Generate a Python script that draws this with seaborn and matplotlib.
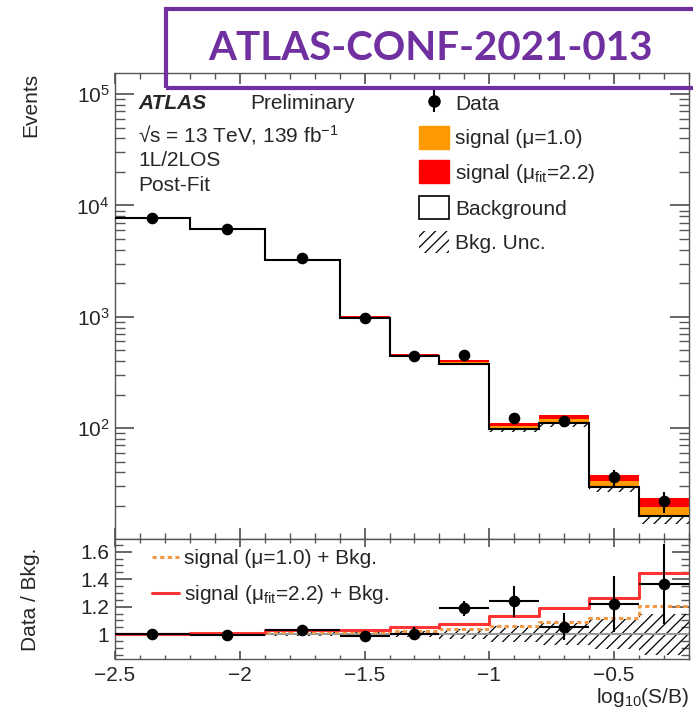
import numpy as np
import matplotlib
matplotlib.use("Agg")
import matplotlib.pyplot as plt
from matplotlib.patches import Rectangle, Patch
from matplotlib.lines import Line2D
from matplotlib.legend_handler import HandlerTuple
from matplotlib.ticker import (MultipleLocator, LogLocator, NullFormatter,
                               FixedLocator, FuncFormatter)
import seaborn as sns

# ---- binning in log10(S/B) ----
bin_edges = [-2.5, -2.2, -1.9, -1.6, -1.4, -1.2, -1.0, -0.8, -0.6, -0.4, -0.2]

# ---- post-fit yields per bin ----
background = [7750, 6200, 3230, 980, 443, 380, 98.5, 110, 29.7, 16.1]
bkg_rel_unc = [0.01, 0.01, 0.015, 0.015, 0.02, 0.035, 0.06, 0.08, 0.11, 0.15]
signal_mu1 = [15, 25, 42, 13, 10.6, 13.7, 5.9, 9.7, 3.6, 3.3]
signal_mufit = [39, 62, 97, 29, 23.5, 29.6, 13.1, 20.9, 7.8, 7.2]

# ---- observed data ----
data_counts = [7780, 6170, 3340, 970, 445, 452, 122, 116, 36.2, 22.0]
data_err = [88, 79, 58, 31, 21, 21, 11, 10.8, 6.0, 4.7]

# ---- axis ticks ----
events_ticks = [1e2, 1e3, 1e4, 1e5]
ratio_ticks = [1.0, 1.2, 1.4, 1.6]

# ---- styling ----
sns.set_theme(style="ticks")
plt.rcParams["font.family"] = ["Liberation Sans", "DejaVu Sans"]
plt.rcParams["mathtext.fontset"] = "custom"
plt.rcParams["mathtext.rm"] = "Liberation Sans"
plt.rcParams["mathtext.it"] = "Liberation Sans:italic"
plt.rcParams["mathtext.bf"] = "Liberation Sans:bold"
plt.rcParams["hatch.linewidth"] = 0.9
plt.rcParams["axes.linewidth"] = 1.0
plt.rcParams["axes.edgecolor"] = "#555555"

ORANGE = "#FF9A00"
RED = "#FF0000"
PURPLE = "#7030A0"
FS = 15

edges = np.array(bin_edges)
centers = 0.5 * (edges[1:] + edges[:-1])
halfw = 0.5 * np.diff(edges)
bkg = np.array(background)
unc = np.array(bkg_rel_unc)
s1 = np.array(signal_mu1)
sfit = np.array(signal_mufit)
dat = np.array(data_counts)
derr = np.array(data_err)

W, H = 693, 714
fig = plt.figure(figsize=(W / 100, H / 100), dpi=100)
x0, x1 = 115, 689
y_top, y_mid, y_bot = 73, 539.3, 659
ax = fig.add_axes([x0 / W, 1 - y_mid / H, (x1 - x0) / W, (y_mid - y_top) / H])
rax = fig.add_axes([x0 / W, 1 - y_bot / H, (x1 - x0) / W, (y_bot - y_mid) / H], sharex=ax)

# ---- main panel ----
ax.set_yscale("log")
ax.stairs(bkg * (1 + unc), edges, baseline=bkg * (1 - unc), fill=True,
          facecolor="none", edgecolor="black", linewidth=0, hatch="///", zorder=1)
ax.stairs(bkg + sfit, edges, baseline=bkg, fill=True, color=RED, linewidth=0, zorder=2)
ax.stairs(bkg + s1, edges, baseline=bkg, fill=True, color=ORANGE, linewidth=0, zorder=3)
ax.stairs(bkg, edges, baseline=None, color="black", linewidth=1.5, zorder=4)
ax.errorbar(centers, dat, yerr=derr, fmt="none", ecolor="black", elinewidth=1.5, zorder=5)
sns.scatterplot(x=centers, y=dat, ax=ax, color="black", s=70, edgecolor="black",
                linewidth=0, zorder=6, legend=False)

ax.set_xlim(-2.5, -0.2)
ax.set_ylim(10, 1.55e5)
ax.set_ylabel("Events", fontsize=FS, loc="top")
ax.tick_params(labelbottom=False)

minus_fmt = FuncFormatter(lambda v, p: ("%g" % v).replace("-", "\u2212"))
ax.xaxis.set_major_locator(MultipleLocator(0.5))
ax.xaxis.set_minor_locator(MultipleLocator(0.1))
ax.yaxis.set_major_locator(FixedLocator(events_ticks))
ax.yaxis.set_minor_locator(LogLocator(base=10, subs=np.arange(2, 10), numticks=20))
ax.yaxis.set_minor_formatter(NullFormatter())
ax.tick_params(which="both", direction="in", top=True, right=True, color="#555555")
ax.tick_params(axis="x", which="major", length=8)
ax.tick_params(axis="x", which="minor", length=4)
ax.tick_params(axis="y", which="major", length=14, labelsize=FS, pad=4)
ax.tick_params(axis="y", which="minor", length=7)

# labels inside the main panel
tx = 0.04
ax.text(tx, 0.934, "ATLAS", transform=ax.transAxes, fontsize=FS, fontweight="bold",
        fontstyle="italic", va="center", ha="left")
ax.text(0.235, 0.934, "Preliminary", transform=ax.transAxes, fontsize=FS,
        va="center", ha="left")
ax.text(tx, 0.866, "√s = 13 TeV, 139 fb$^{-1}$", transform=ax.transAxes, fontsize=FS,
        va="center", ha="left")
ax.text(tx, 0.812, "1L/2LOS", transform=ax.transAxes, fontsize=FS, va="center", ha="left")
ax.text(tx, 0.758, "Post-Fit", transform=ax.transAxes, fontsize=FS, va="center", ha="left")

data_handle = (Line2D([0], [0], marker="|", color="black", markersize=16,
                      markeredgewidth=1.5, linewidth=0),
               Line2D([0], [0], marker="o", color="black", markersize=8, linewidth=0))
handles = [
    data_handle,
    Patch(facecolor=ORANGE, edgecolor=ORANGE),
    Patch(facecolor=RED, edgecolor=RED),
    Patch(facecolor="white", edgecolor="black", linewidth=1.2),
    Patch(facecolor="none", edgecolor="black", linewidth=0, hatch="///"),
]
labels = ["Data", "signal (μ=1.0)", "signal (μ$_{\\mathrm{fit}}$=2.2)",
          "Background", "Bkg. Unc."]
ax.legend(handles, labels, loc="upper left", bbox_to_anchor=(0.515, 0.978),
          frameon=False, fontsize=FS, handlelength=1.45, handleheight=1.3,
          handletextpad=0.3, labelspacing=0.56, borderaxespad=0,
          handler_map={tuple: HandlerTuple(ndivide=1)})

# ---- ratio panel ----
rel = np.ones_like(bkg)
rax.stairs(rel + unc, edges, baseline=rel - unc, fill=True, facecolor="none",
           edgecolor="black", linewidth=0, hatch="///", zorder=1)
rax.axhline(1.0, color="#999999", linewidth=1.5, zorder=2)

step_x = np.append(edges[:-1], edges[-1])
r_mu1 = (bkg + s1) / bkg
r_fit = (bkg + sfit) / bkg
sns.lineplot(x=step_x, y=np.append(r_mu1, r_mu1[-1]), ax=rax, drawstyle="steps-post",
             color="#F39A4A", linewidth=2.2, linestyle=(0, (1.4, 1.1)), estimator=None,
             zorder=3, label="signal (μ=1.0) + Bkg.")
sns.lineplot(x=step_x, y=np.append(r_fit, r_fit[-1]), ax=rax, drawstyle="steps-post",
             color="#FF3535", linewidth=2.2, estimator=None, zorder=3,
             label="signal (μ$_{\\mathrm{fit}}$=2.2) + Bkg.")

ratio = dat / bkg
ratio_err = derr / bkg
rax.errorbar(centers, ratio, xerr=halfw, yerr=ratio_err, fmt="none", ecolor="black",
             elinewidth=1.5, zorder=4)
sns.scatterplot(x=centers, y=ratio, ax=rax, color="black", s=70, linewidth=0,
                zorder=5, legend=False)

rax.legend(loc="upper left", bbox_to_anchor=(0.05, 0.99), frameon=False, fontsize=FS,
           handlelength=1.3, handletextpad=0.25, labelspacing=0.75, borderaxespad=0)

rax.set_ylim(0.82, 1.69)
rax.yaxis.set_major_locator(FixedLocator(ratio_ticks))
rax.yaxis.set_minor_locator(MultipleLocator(0.05))
rax.yaxis.set_major_formatter(FuncFormatter(lambda v, p: "%g" % v))
rax.xaxis.set_major_formatter(minus_fmt)
rax.tick_params(which="both", direction="in", top=True, right=True, color="#555555")
rax.tick_params(axis="y", which="major", length=12, labelsize=FS, pad=4)
rax.tick_params(axis="y", which="minor", length=6)
rax.tick_params(axis="x", which="major", length=6, labelsize=FS, pad=5)
rax.tick_params(axis="x", which="minor", length=3)
rax.set_ylabel("Data / Bkg.", fontsize=FS)
rax.set_xlabel("log$_{10}$(S/B)", fontsize=FS, loc="right", labelpad=1)
rax.yaxis.set_label_coords(-0.13, 0.5)
ax.yaxis.set_label_coords(-0.13, 1.0)

# ---- document tag ----
fig.patches.append(Rectangle((166 / W, 1 - 88 / H), 0.8, 79 / H, transform=fig.transFigure,
                             fill=False, edgecolor=PURPLE, linewidth=3, zorder=10))
fig.text(430 / W, 1 - 49 / H, "ATLAS-CONF-2021-013", color=PURPLE, fontsize=29,
         fontweight="bold", family=["Lato", "DejaVu Sans"], ha="center", va="center",
         zorder=11)

fig.savefig("out.png", dpi=100)
